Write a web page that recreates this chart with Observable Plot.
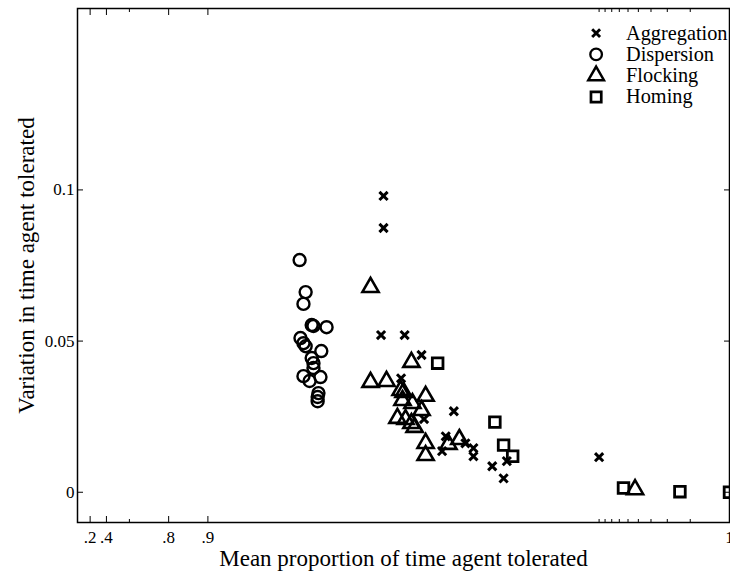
<!DOCTYPE html>
<html><head><meta charset="utf-8">
<script src="https://cdn.jsdelivr.net/npm/d3@7"></script>
<script src="https://cdn.jsdelivr.net/npm/@observablehq/plot@0.6"></script>
<style>
html,body{margin:0;padding:0;background:#fff;}
#wrap{position:relative;width:730px;height:573px;overflow:hidden;}
#legend{position:absolute;left:585px;top:22px;}
</style></head><body><div id="wrap"></div>
<script>
const categories = ["Aggregation", "Dispersion", "Flocking", "Homing"];

const aggregationMean = [0.9955, 0.9955, 0.9953, 0.9969, 0.9977, 0.9967, 0.9978, 0.9987, 0.9985, 0.9984, 0.99894, 0.99908, 0.99908, 0.99934, 0.99946, 0.99949, 0.99990];
const aggregationVar  = [0.0980, 0.0874, 0.0520, 0.0520, 0.0454, 0.0377, 0.0242, 0.0268, 0.0185, 0.0136, 0.0162, 0.0146, 0.0119, 0.0086, 0.0046, 0.0103, 0.0116];

const dispersionMean = [0.9802, 0.9822, 0.9815, 0.9840, 0.9845, 0.9877, 0.9805, 0.9815, 0.9822, 0.9865, 0.9840, 0.9845, 0.9845, 0.9815, 0.9834, 0.9863, 0.9858, 0.9856, 0.9856];
const dispersionVar  = [0.0768, 0.0662, 0.0623, 0.0553, 0.0550, 0.0546, 0.0510, 0.0493, 0.0483, 0.0467, 0.0444, 0.0427, 0.0411, 0.0384, 0.0368, 0.0381, 0.0328, 0.0315, 0.0301];

const flockingMean = [0.99434, 0.99725, 0.99434, 0.99573, 0.99667, 0.99684, 0.99786, 0.99678, 0.99730, 0.99770, 0.99648, 0.99695, 0.99725, 0.99740, 0.99786, 0.99786, 0.99857, 0.99882, 0.999947];
const flockingVar  = [0.0678, 0.0430, 0.0364, 0.0367, 0.0337, 0.0331, 0.0318, 0.0304, 0.0294, 0.0271, 0.0245, 0.0241, 0.0228, 0.0215, 0.0162, 0.0122, 0.0159, 0.0175, 0.0009];

const homingMean = [0.99827, 0.99937, 0.99946, 0.99954, 0.999935, 0.999976, 0.99999];
const homingVar  = [0.0427, 0.0232, 0.0156, 0.0119, 0.0014, 0.0002, 0.0000];

const xMajorTickValues = [0.2, 0.4, 0.8, 0.9, 0.99999];
const xMajorTickLabels = [".2", ".4", ".8", ".9", "1"];
const xMinorTickValues = [0.6, 0.9999, 0.99991, 0.99992, 0.99993, 0.99994, 0.99995, 0.99996, 0.99997, 0.99998];
const yTickValues = [0, 0.05, 0.1];
const yTickLabels = ["0", "0.05", "0.1"];

const xLabel = "Mean proportion of time agent tolerated";
const yLabel = "Variation in time agent tolerated";

// ---- build table ----
const series = {
  Aggregation: [aggregationMean, aggregationVar],
  Dispersion: [dispersionMean, dispersionVar],
  Flocking: [flockingMean, flockingVar],
  Homing: [homingMean, homingVar]
};
const rows = [];
for (const c of categories) {
  const [xs, ys] = series[c];
  xs.forEach((m, i) => rows.push({cat: c, mean: m, v: ys[i]}));
}
const oneMinus = p => 1 - p;

const styleFor = {
  Aggregation: {symbol: "times", r: 3.8, strokeWidth: 3},
  Dispersion: {symbol: "circle", r: 6, strokeWidth: 2.4},
  Flocking: {symbol: "triangle", r: 6, strokeWidth: 2.6},
  Homing: {symbol: "square", r: 6, strokeWidth: 2.8}
};

const majorTicks = xMajorTickValues.map((p, i) => ({u: oneMinus(p), label: xMajorTickLabels[i]}));
const majorU = majorTicks.map(d => d.u);
const minorU = xMinorTickValues.map(oneMinus);
const yLabelMap = new Map(yTickValues.map((v, i) => [v, yTickLabels[i]]));

const font = "'Liberation Serif', 'Times New Roman', serif";

const dotMarks = categories.map(c => Plot.dot(rows.filter(d => d.cat === c), {
  x: d => oneMinus(d.mean),
  y: "v",
  symbol: styleFor[c].symbol,
  r: styleFor[c].r,
  stroke: "black",
  strokeWidth: styleFor[c].strokeWidth,
  fill: "none"
}));

const chart = Plot.plot({
  width: 730,
  height: 573,
  marginLeft: 77,
  marginRight: 1,
  marginTop: 8,
  marginBottom: 51,
  style: {fontFamily: font, fontSize: "17px", background: "white", color: "black", overflow: "visible"},
  x: {type: "log", domain: [1, 1e-5]},
  y: {domain: [-0.01, 0.16]},
  marks: [
    Plot.axisX({anchor: "bottom", ticks: majorU, tickSize: -6, tickFormat: () => "", label: null}),
    Plot.axisX({anchor: "bottom", ticks: minorU, tickSize: -3, tickFormat: () => "", label: null}),
    Plot.axisX({anchor: "top", ticks: majorU, tickSize: -6, tickFormat: () => "", label: null}),
    Plot.axisX({anchor: "top", ticks: minorU, tickSize: -3, tickFormat: () => "", label: null}),
    Plot.text(majorTicks, {x: "u", text: "label", frameAnchor: "bottom", textAnchor: "middle", lineAnchor: "bottom", dy: 20, fontSize: 17, fill: "black"}),
    Plot.axisY({anchor: "left", ticks: yTickValues, tickSize: -6, tickPadding: 9, tickFormat: v => yLabelMap.get(v) ?? "", fontSize: 17, label: null}),
    Plot.axisY({anchor: "right", ticks: yTickValues, tickSize: -6, tickFormat: () => "", label: null}),
    ...dotMarks,
    Plot.frame({stroke: "black", strokeWidth: 1.5}),
    Plot.text([xLabel], {frameAnchor: "bottom", dy: 43, fontSize: 23, textAnchor: "middle", lineAnchor: "bottom", text: d => d, fill: "black"}),
    Plot.text([yLabel], {frameAnchor: "left", dx: -44, rotate: -90, fontSize: 23, textAnchor: "middle", lineAnchor: "bottom", text: d => d, fill: "black"})
  ]
});

const legend = Plot.plot({
  width: 150,
  height: 90,
  margin: 0,
  style: {fontFamily: font, fontSize: "21px", background: "transparent", color: "black", overflow: "visible"},
  y: {type: "point", domain: categories, range: [11, 77], padding: 0, axis: null},
  marks: [
    ...categories.map(c => Plot.dot([c], {
      y: d => d, frameAnchor: "left", dx: 11,
      symbol: styleFor[c].symbol, r: styleFor[c].r, stroke: "black",
      strokeWidth: styleFor[c].strokeWidth, fill: "none"
    })),
    Plot.text(categories, {y: d => d, frameAnchor: "left", dx: 42, text: d => d, textAnchor: "start", fontSize: 21, fill: "black"})
  ]
});

const wrap = document.getElementById("wrap");
wrap.appendChild(chart);
const lg = document.createElement("div");
lg.id = "legend";
lg.appendChild(legend);
wrap.appendChild(lg);
</script></body></html>
